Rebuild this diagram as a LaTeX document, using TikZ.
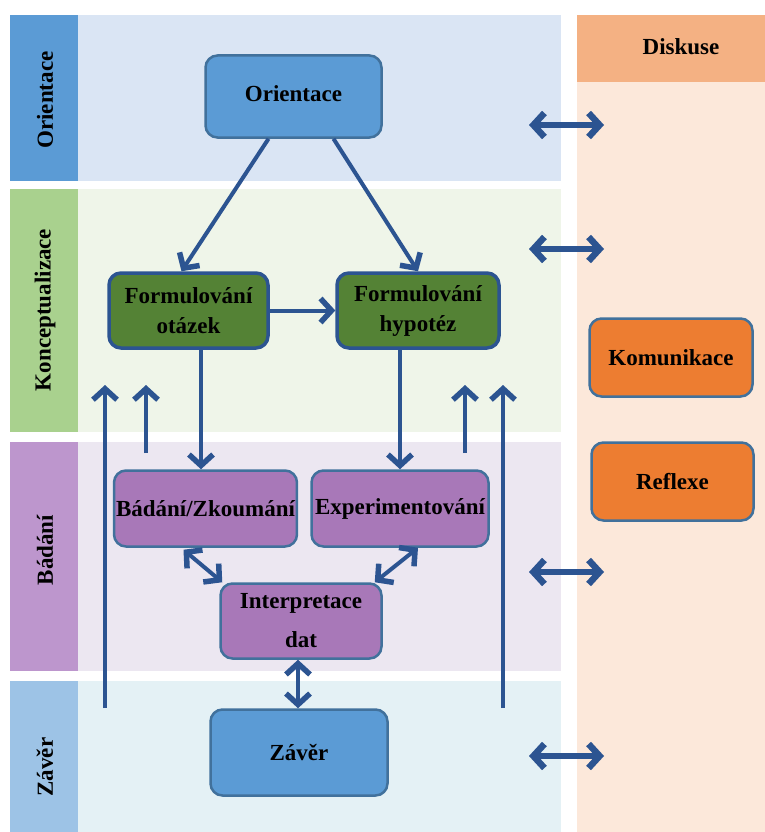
\documentclass[tikz,border=0pt]{standalone}
\usepackage{fontspec}
\setmainfont{Liberation Serif}
\usetikzlibrary{shapes,arrows.meta}
\definecolor{arrowblue}{RGB}{44,84,145}
\definecolor{boxline}{RGB}{65,113,156}
\definecolor{boxblue}{RGB}{91,155,213}
\definecolor{boxgreen}{RGB}{84,130,53}
\definecolor{boxpurple}{RGB}{168,120,184}
\definecolor{boxorange}{RGB}{237,125,49}
\definecolor{orstrip}{RGB}{91,155,213}
\definecolor{orbg}{RGB}{218,229,244}
\definecolor{kostrip}{RGB}{169,209,142}
\definecolor{kobg}{RGB}{239,245,233}
\definecolor{bastrip}{RGB}{189,150,205}
\definecolor{babg}{RGB}{236,231,241}
\definecolor{zastrip}{RGB}{157,195,230}
\definecolor{zabg}{RGB}{228,241,245}
\definecolor{dihead}{RGB}{244,177,131}
\definecolor{dibg}{RGB}{252,232,218}

\begin{document}
\begin{tikzpicture}[x=1pt,y=-1pt,->,>={Straight Barb[length=11pt,width=24pt,line width=5.5pt]}]
\tikzstyle{every node}=[font=\bfseries\fontsize{23}{30}\selectfont,text=black]
\tikzstyle{box}=[rectangle,rounded corners=12pt,draw=boxline,line width=2.5pt,align=center,inner sep=2pt]
\tikzstyle{bluebox}=[box,fill=boxblue]
\tikzstyle{greenbox}=[box,fill=boxgreen,draw=arrowblue,line width=3.5pt]
\tikzstyle{purplebox}=[box,fill=boxpurple]
\tikzstyle{orangebox}=[box,fill=boxorange]
\tikzstyle{flow}=[draw=arrowblue,line width=4pt]
\tikzstyle{both}=[flow,<->]
\tikzstyle{talk}=[draw=arrowblue,line width=6pt,>={Straight Barb[length=11pt,width=24pt,line width=6.5pt]},<->]
\useasboundingbox (0,0) rectangle (765,832);
\fill[orbg] (78,15) rectangle (561,181);
\fill[orstrip] (10,15) rectangle (78,181);
\fill[kobg] (78,189) rectangle (561,432);
\fill[kostrip] (10,189) rectangle (78,432);
\fill[babg] (78,442) rectangle (561,671);
\fill[bastrip] (10,442) rectangle (78,671);
\fill[zabg] (78,681) rectangle (561,832);
\fill[zastrip] (10,681) rectangle (78,832);
\fill[dihead] (577,15) rectangle (765,82);
\fill[dibg] (577,82) rectangle (765,832);
\node[rotate=90] (lor) at (45,100) {Orientace};
\node[rotate=90] (lko) at (45,310) {Konceptualizace};
\node[rotate=90] (lba) at (45,550) {Bádání};
\node[rotate=90] (lza) at (45,767) {Závěr};
\node (ldi) at (681,47) {Diskuse};
\node[bluebox,minimum width=176pt,minimum height=82pt] (or) at (293.5,96.5) {\raisebox{5pt}{Orientace}};
\node[greenbox,minimum width=159pt,minimum height=75pt] (fo) at (188.5,310.5) {Formulování\\otázek};
\node[greenbox,minimum width=162pt,minimum height=75pt] (fh) at (418,310.5) {Formulování\\hypotéz};
\node[purplebox,minimum width=182pt,minimum height=76pt] (bz) at (205.5,508.5) {Bádání/Zkoumání};
\node[purplebox,minimum width=177pt,minimum height=76pt] (ex) at (400,508.5) {Experimentování};
\node[purplebox,minimum width=161pt,minimum height=75pt] (id) at (301,621) {Interpretace\\[9pt]dat};
\node[bluebox,minimum width=177pt,minimum height=86pt] (zv) at (299,752.5) {Závěr};
\node[orangebox,minimum width=163pt,minimum height=78pt] (ko) at (671,357.5) {Komunikace};
\node[orangebox,minimum width=162pt,minimum height=78pt] (re) at (672.5,481.5) {Reflexe};
\coordinate (u1a) at (105,708); \coordinate (u1b) at (105,385);
\coordinate (u2a) at (146,453); \coordinate (u2b) at (146,385);
\coordinate (u3a) at (465,453); \coordinate (u3b) at (465,385);
\coordinate (u4a) at (503,708); \coordinate (u4b) at (503,385);
\coordinate (d1a) at (529,125); \coordinate (d1b) at (604,125);
\coordinate (d2a) at (529,249); \coordinate (d2b) at (604,249);
\coordinate (d3a) at (529,572); \coordinate (d3b) at (604,572);
\coordinate (d4a) at (529,756); \coordinate (d4b) at (604,756);
\path ([xshift=-25pt]or.south) edge[flow] ([xshift=-7pt]fo.north)
      ([xshift=40pt]or.south) edge[flow] (fh.north)
      (fo.east) edge[flow] (fh.west)
      ([xshift=12.5pt]fo.south) edge[flow] ([xshift=-4.5pt]bz.north)
      ([xshift=-18pt]fh.south) edge[flow] (ex.north)
      ([xshift=-22pt,yshift=-2pt]bz.south) edge[both] ([xshift=3pt]id.north west)
      ([xshift=18pt]ex.south) edge[both] ([xshift=-8pt]id.north east)
      ([xshift=-3pt]id.south) edge[both] ([xshift=-1pt]zv.north)
      (u1a) edge[flow] (u1b)
      (u2a) edge[flow] (u2b)
      (u3a) edge[flow] (u3b)
      (u4a) edge[flow] (u4b)
      (d1a) edge[talk] (d1b)
      (d2a) edge[talk] (d2b)
      (d3a) edge[talk] (d3b)
      (d4a) edge[talk] (d4b);
\end{tikzpicture}
\end{document}
